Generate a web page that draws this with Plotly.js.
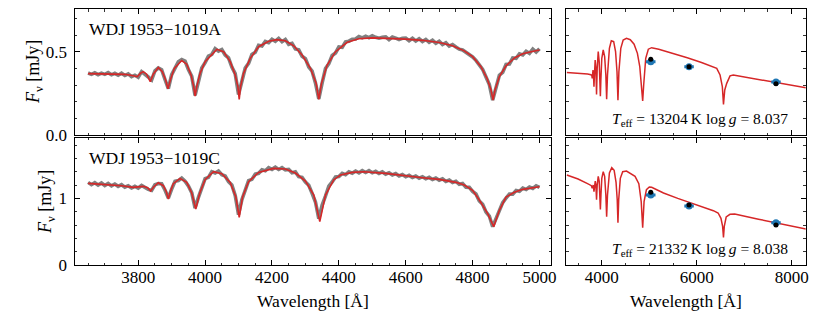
<!DOCTYPE html>
<html>
<head>
<meta charset="utf-8">
<script src="https://cdn.plot.ly/plotly-3.0.1.min.js"></script>
<style>html,body{margin:0;padding:0;background:#fff}#chart{width:830px;height:312px}</style>
</head>
<body>
<div id="chart"></div>
<script>
// ---------- data: star A (WDJ 1953-1019A) and star C ----------
const obsWave = [3650,3660,3670,3680,3690,3700,3710,3720,3730,3740,3750,3760,3770,3780,3790,3800,3810,3820,3830,3840,3850,3860,3870,3880,3890,3900,3910,3920,3930,3940,3950,3960,3970,3980,3990,4000,4010,4020,4030,4040,4050,4060,4070,4080,4090,4100,4110,4120,4130,4140,4150,4160,4170,4180,4190,4200,4210,4220,4230,4240,4250,4260,4270,4280,4290,4300,4310,4320,4330,4340,4350,4360,4370,4380,4390,4400,4410,4420,4430,4440,4450,4460,4470,4480,4490,4500,4510,4520,4530,4540,4550,4560,4570,4580,4590,4600,4610,4620,4630,4640,4650,4660,4670,4680,4690,4700,4710,4720,4730,4740,4750,4760,4770,4780,4790,4800,4810,4820,4830,4840,4850,4860,4870,4880,4890,4900,4910,4920,4930,4940,4950,4960,4970,4980,4990,5000];
const obsFluxA = [.372,.364,.373,.362,.371,.364,.374,.361,.370,.359,.371,.357,.367,.350,.359,.347,.380,.366,.348,.330,.385,.402,.392,.333,.278,.362,.400,.440,.453,.443,.393,.352,.238,.320,.402,.434,.473,.483,.518,.503,.513,.480,.463,.408,.368,.243,.318,.402,.430,.483,.496,.538,.534,.561,.554,.575,.563,.580,.560,.573,.544,.550,.516,.511,.472,.458,.408,.383,.312,.216,.312,.399,.428,.477,.492,.528,.526,.559,.563,.574,.576,.591,.583,.593,.584,.595,.586,.581,.587,.589,.572,.588,.581,.573,.580,.582,.566,.580,.564,.577,.561,.573,.556,.568,.551,.563,.543,.554,.533,.543,.528,.515,.510,.497,.487,.468,.448,.419,.394,.348,.303,.210,.280,.359,.376,.423,.426,.462,.460,.487,.480,.502,.490,.515,.498,.518];
const obsFluxC = [1.240,1.205,1.235,1.200,1.230,1.193,1.223,1.187,1.215,1.180,1.205,1.167,1.190,1.155,1.181,1.155,1.193,1.160,1.135,1.120,1.203,1.223,1.220,1.125,1.005,1.140,1.255,1.267,1.305,1.257,1.185,1.085,0.855,1.015,1.145,1.295,1.315,1.400,1.380,1.410,1.355,1.335,1.250,1.200,1.045,0.755,0.980,1.115,1.267,1.285,1.363,1.375,1.427,1.413,1.460,1.435,1.467,1.433,1.460,1.427,1.435,1.385,1.397,1.325,1.315,1.245,1.195,1.075,0.945,0.695,0.900,1.035,1.185,1.245,1.320,1.327,1.375,1.355,1.397,1.377,1.410,1.383,1.415,1.387,1.415,1.383,1.405,1.373,1.397,1.363,1.385,1.350,1.371,1.335,1.357,1.323,1.345,1.313,1.335,1.303,1.325,1.293,1.315,1.283,1.305,1.273,1.293,1.255,1.275,1.237,1.255,1.210,1.223,1.167,1.165,1.105,1.065,0.960,0.910,0.795,0.735,0.575,0.700,0.805,0.935,1.005,1.065,1.063,1.117,1.105,1.153,1.133,1.170,1.150,1.187,1.165];

// model fit in the spectral window
const fitWaveA = [3650,3680,3720,3760,3785,3797,3808,3815,3825,3836,3845,3860,3872,3882,3889,3896,3908,3930,3945,3958,3966,3970,3975,3985,4000,4035,4055,4075,4090,4098,4102,4106,4115,4135,4160,4190,4215,4240,4265,4290,4315,4332,4340,4348,4365,4390,4425,4460,4500,4550,4600,4650,4700,4740,4775,4800,4825,4843,4855,4861,4867,4880,4900,4925,4950,4975,5000];
const fitFluxA = [.368,.367,.366,.364,.355,.350,.372,.380,.365,.320,.365,.405,.380,.330,.277,.330,.400,.447,.425,.360,.290,.233,.290,.370,.440,.514,.500,.440,.360,.290,.214,.290,.370,.460,.530,.562,.572,.565,.535,.480,.400,.310,.214,.310,.420,.500,.556,.578,.583,.580,.575,.568,.555,.535,.505,.470,.410,.340,.270,.210,.270,.350,.415,.462,.488,.500,.510];
const fitWaveC = [3650,3700,3750,3785,3800,3815,3828,3837,3846,3860,3875,3884,3890,3896,3905,3925,3945,3960,3972,3984,4000,4025,4050,4075,4092,4102,4112,4130,4160,4205,4240,4270,4300,4325,4343,4360,4385,4405,4440,4475,4540,4600,4650,4700,4750,4775,4800,4820,4845,4863,4880,4900,4925,4950,4975,5000];
const fitFluxC = [1.225,1.21,1.19,1.165,1.17,1.18,1.16,1.11,1.17,1.235,1.19,1.10,0.99,1.10,1.22,1.30,1.24,1.08,0.84,1.08,1.28,1.40,1.37,1.24,1.02,0.715,1.02,1.25,1.39,1.45,1.44,1.38,1.26,1.05,0.65,1.05,1.28,1.35,1.39,1.40,1.375,1.335,1.31,1.285,1.24,1.20,1.12,0.975,0.77,0.575,0.82,1.02,1.09,1.135,1.16,1.175];

// full model SED
const sedWaveA = [3263,3400,3550,3700,3770,3790,3798,3806,3815,3826,3835,3845,3860,3875,3889,3903,3925,3945,3960,3970,3980,4000,4030,4060,4085,4102,4120,4160,4200,4250,4290,4320,4340,4360,4400,4450,4520,4600,4680,4750,4800,4840,4861,4882,4925,4980,5050,5200,5500,5800,6100,6300,6421,6491,6539,6563,6590,6631,6701,6770,7200,7700,8300];
const sedFluxA = [.375,.373,.370,.366,.362,.356,.340,.360,.390,.350,.290,.360,.450,.400,.243,.400,.500,.440,.330,.233,.330,.460,.510,.470,.360,.214,.360,.520,.565,.560,.500,.380,.208,.380,.520,.570,.580,.572,.545,.490,.410,.300,.204,.300,.460,.515,.524,.515,.490,.463,.435,.415,.400,.360,.290,.184,.270,.310,.355,.360,.338,.313,.283];
const sedWaveC = [3263,3500,3700,3780,3798,3810,3820,3835,3848,3862,3875,3889,3903,3925,3945,3960,3970,3982,4000,4030,4060,4085,4102,4120,4160,4210,4260,4300,4325,4340,4356,4390,4440,4520,4600,4700,4780,4830,4861,4890,4940,5000,5050,5300,5600,5900,6200,6350,6450,6510,6545,6563,6580,6620,6700,6800,7300,7800,8300];
const sedFluxC = [1.35,1.29,1.22,1.19,1.15,1.19,1.20,1.10,1.20,1.26,1.20,0.98,1.20,1.33,1.26,1.05,0.835,1.05,1.30,1.40,1.33,1.05,0.725,1.05,1.38,1.46,1.42,1.24,0.98,0.635,0.98,1.30,1.40,1.41,1.38,1.33,1.22,0.95,0.56,0.95,1.13,1.17,1.165,1.08,1.00,0.93,0.855,0.815,0.78,0.70,0.58,0.415,0.58,0.72,0.76,0.765,0.687,0.613,0.54];

// photometry (observed = blue, synthetic = black)
const photWave = [5031,5838,7669];
const photObsA = [0.440,0.410,0.318];
const photErrA = [0.008,0.006,0.006];
const photSynA = [0.455,0.410,0.308];
const photObsC = [1.050,0.885,0.635];
const photErrC = [0.020,0.015,0.020];
const photSynC = [1.090,0.900,0.600];
const photBand = [100,100,100];

const labelA = 'WDJ\u20091953\u22121019A';
const labelC = 'WDJ\u20091953\u22121019C';
const paramA = '<i>T</i><sub>eff</sub> = 13204\u2009K\u00a0log\u2009<i>g</i> = 8.037';
const paramC = '<i>T</i><sub>eff</sub> = 21332\u2009K\u00a0log\u2009<i>g</i> = 8.038';

// ---------- plotting ----------
const W = 830, H = 312;
const px = v => v / W, py = v => 1 - v / H;
const FAM = '"Liberation Serif", "DejaVu Serif", serif';
const GREY = '#808080', RED = '#d62728', BLUE = '#1f77b4';

const traces = [
  {x: obsWave, y: obsFluxA, xaxis: 'x', yaxis: 'y', mode: 'lines', line: {color: GREY, width: 3.6}},
  {x: fitWaveA, y: fitFluxA, xaxis: 'x', yaxis: 'y', mode: 'lines', line: {color: RED, width: 1.6}},
  {x: obsWave, y: obsFluxC, xaxis: 'x3', yaxis: 'y3', mode: 'lines', line: {color: GREY, width: 3.6}},
  {x: fitWaveC, y: fitFluxC, xaxis: 'x3', yaxis: 'y3', mode: 'lines', line: {color: RED, width: 1.6}},
  {x: sedWaveA, y: sedFluxA, xaxis: 'x2', yaxis: 'y2', mode: 'lines', line: {color: RED, width: 1.5}},
  {x: photWave, y: photObsA, xaxis: 'x2', yaxis: 'y2', mode: 'markers',
   marker: {color: BLUE, size: 7},
   error_x: {type: 'data', array: photBand, color: BLUE, thickness: 3, width: 0},
   error_y: {type: 'data', array: photErrA, color: BLUE, thickness: 2, width: 0}},
  {x: photWave, y: photSynA, xaxis: 'x2', yaxis: 'y2', mode: 'markers', marker: {color: '#000', size: 5}},
  {x: sedWaveC, y: sedFluxC, xaxis: 'x4', yaxis: 'y4', mode: 'lines', line: {color: RED, width: 1.5}},
  {x: photWave, y: photObsC, xaxis: 'x4', yaxis: 'y4', mode: 'markers',
   marker: {color: BLUE, size: 7},
   error_x: {type: 'data', array: photBand, color: BLUE, thickness: 3, width: 0},
   error_y: {type: 'data', array: photErrC, color: BLUE, thickness: 2, width: 0}},
  {x: photWave, y: photSynC, xaxis: 'x4', yaxis: 'y4', mode: 'markers', marker: {color: '#000', size: 5}}
];

function axis(o) {
  return Object.assign({
    showline: true, linecolor: '#000', linewidth: 1.2, mirror: 'ticks',
    ticks: 'inside', ticklen: 5, tickwidth: 1, tickcolor: '#000',
    showgrid: false, zeroline: false, fixedrange: true,
    tickfont: {family: FAM, size: 17, color: '#000'},
    ticklabelstandoff: 3
  }, o);
}
function minor(d, t0) {
  return {ticks: 'inside', ticklen: 2.5, tickwidth: 0.8, tickcolor: '#000', dtick: d, tick0: t0, showgrid: false};
}

const LX = [px(74.7), px(551.2)], RX = [px(566.2), px(805.7)];
const TY = [py(135), py(9)], BY = [py(265), py(137.7)];

const layout = {
  width: W, height: H, margin: {l: 0, r: 0, t: 0, b: 0},
  paper_bgcolor: '#fff', plot_bgcolor: '#fff', showlegend: false,
  font: {family: FAM, size: 17, color: '#000'},
  xaxis: axis({domain: LX, anchor: 'y', range: [3610, 5035], tick0: 3800, dtick: 200, showticklabels: false, minor: minor(50, 3600)}),
  yaxis: axis({domain: TY, anchor: 'x', range: [0, 0.756], tick0: 0, dtick: 0.5, tickformat: '.1f', minor: minor(0.1, 0)}),
  xaxis2: axis({domain: RX, anchor: 'y2', range: [3250, 8295], tick0: 4000, dtick: 2000, showticklabels: false, minor: minor(500, 3000)}),
  yaxis2: axis({domain: TY, anchor: 'x2', range: [0, 0.756], tick0: 0, dtick: 0.5, showticklabels: false, minor: minor(0.1, 0)}),
  xaxis3: axis({domain: LX, anchor: 'y3', range: [3610, 5035], tick0: 3800, dtick: 200, ticklabelstandoff: -4, minor: minor(50, 3600)}),
  yaxis3: axis({domain: BY, anchor: 'x3', range: [0, 1.91], tick0: 0, dtick: 1, minor: minor(0.2, 0)}),
  xaxis4: axis({domain: RX, anchor: 'y4', range: [3250, 8295], tick0: 4000, dtick: 2000, ticklabelstandoff: -4, minor: minor(500, 3000)}),
  yaxis4: axis({domain: BY, anchor: 'x4', range: [0, 1.91], tick0: 0, dtick: 1, showticklabels: false, minor: minor(0.2, 0)}),
  annotations: [
    {text: labelA, xref: 'paper', yref: 'paper', x: px(87), y: py(28.5), xanchor: 'left', yanchor: 'middle', showarrow: false, font: {family: FAM, size: 17.5}},
    {text: labelC, xref: 'paper', yref: 'paper', x: px(87), y: py(158), xanchor: 'left', yanchor: 'middle', showarrow: false, font: {family: FAM, size: 17.5}},
    {text: paramA, xref: 'paper', yref: 'paper', x: px(790), y: py(119.5), xanchor: 'right', yanchor: 'middle', showarrow: false, font: {family: FAM, size: 15.5}},
    {text: paramC, xref: 'paper', yref: 'paper', x: px(790), y: py(249.5), xanchor: 'right', yanchor: 'middle', showarrow: false, font: {family: FAM, size: 15.5}},
    {text: 'Wavelength [Å]', xref: 'paper', yref: 'paper', x: px(313), y: py(301), xanchor: 'center', yanchor: 'middle', showarrow: false, font: {family: FAM, size: 17.5}},
    {text: 'Wavelength [Å]', xref: 'paper', yref: 'paper', x: px(686), y: py(301), xanchor: 'center', yanchor: 'middle', showarrow: false, font: {family: FAM, size: 17.5}},
    {text: '<i>F</i><sub>ν</sub> [mJy]', xref: 'paper', yref: 'paper', x: px(34.5), y: py(72.5), xanchor: 'center', yanchor: 'middle', textangle: -90, showarrow: false, font: {family: FAM, size: 18}},
    {text: '<i>F</i><sub>ν</sub> [mJy]', xref: 'paper', yref: 'paper', x: px(46.5), y: py(202.5), xanchor: 'center', yanchor: 'middle', textangle: -90, showarrow: false, font: {family: FAM, size: 18}}
  ]
};

Plotly.newPlot('chart', traces, layout, {staticPlot: true, displayModeBar: false});
</script>
</body>
</html>
